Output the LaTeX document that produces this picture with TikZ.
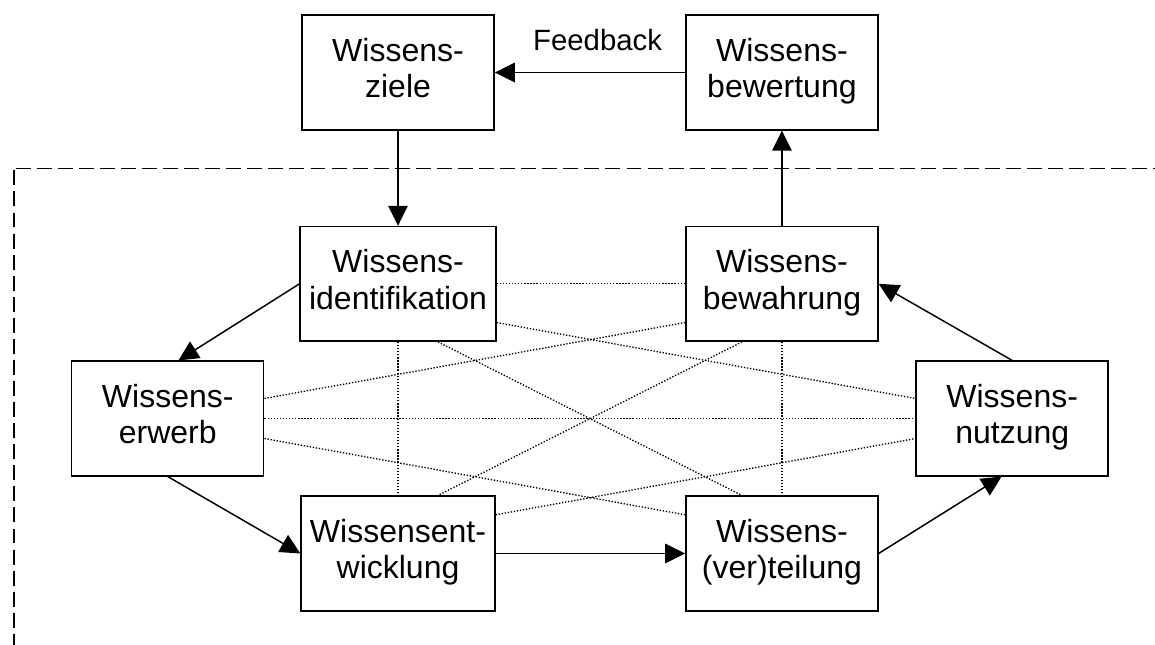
\documentclass[tikz,border=0pt]{standalone}
\usepackage{fontspec}
\setmainfont{Liberation Sans}
\usetikzlibrary{arrows.meta}

\begin{document}
\begin{tikzpicture}[
    process/.style={draw, rectangle, line width=0.55pt, minimum width=72pt, minimum height=43pt, align=center, font=\fontsize{12}{13.8}\selectfont, text depth=3.5pt},
    flow/.style={-{Triangle[length=7.5pt, width=7.3pt]}, line width=0.55pt},
    link/.style={line width=0.5pt, dash pattern=on 0.5pt off 0.65pt},
    frame/.style={line width=0.7pt, dash pattern=on 5.6pt off 2.3pt}
]
    \useasboundingbox (-7.776,-2.985) rectangle (7.447,5.516);

    % Goals and assessment
    \node[process] (ziele) at (-2.53,4.56) {Wissens-\\ziele};
    \node[process] (bewertung) at (2.53,4.56) {Wissens-\\bewertung};

    % Core building blocks
    \node[process] (ident) at (-2.53,1.775) {Wissens-\\identifikation};
    \node[process] (bewahrung) at (2.53,1.775) {Wissens-\\bewahrung};
    \node[process] (erwerb) at (-5.565,0) {Wissens-\\erwerb};
    \node[process] (nutzung) at (5.565,0) {Wissens-\\nutzung};
    \node[process] (entw) at (-2.53,-1.779) {Wissensent-\\wicklung};
    \node[process] (verteilung) at (2.53,-1.779) {Wissens-\\(ver)teilung};

    % Dashed frame round the core
    \draw[frame] (-7.592,3.27) -- (-7.592,-2.985);
    \draw[frame] (-7.57,3.295) -- (7.447,3.295);

    % Outer loop
    \draw[flow] (bewertung) -- node[above=4.5pt, pos=0.46, font=\fontsize{11}{13}\selectfont] {Feedback} (ziele);
    \draw[flow] (ziele) -- (ident);
    \draw[flow] (bewahrung) -- (bewertung);

    % Core cycle
    \draw[flow] (ident.west) -- ([xshift=4pt]erwerb.north);
    \draw[flow] (erwerb.south) -- (entw.west);
    \draw[flow] (entw) -- (verteilung);
    \draw[flow] (verteilung.east) -- ([xshift=-4pt]nutzung.south);
    \draw[flow] (nutzung.north) -- (bewahrung.east);

    % Links between all blocks
    \draw[link] (ident) -- (bewahrung);
    \draw[link] (erwerb) -- (nutzung);
    \draw[link] (ident) -- (entw);
    \draw[link] (bewahrung) -- (verteilung);
    \draw[link] ([yshift=7.5pt]erwerb.east) -- ([yshift=-14.5pt]bewahrung.west);
    \draw[link] ([yshift=-7.5pt]erwerb.east) -- ([yshift=14.5pt]verteilung.west);
    \draw[link] ([yshift=-14.5pt]ident.east) -- ([yshift=7.5pt]nutzung.west);
    \draw[link] ([yshift=14.5pt]entw.east) -- ([yshift=-7.5pt]nutzung.west);
    \draw[link] ([xshift=15pt]ident.south) -- ([xshift=-15pt]verteilung.north);
    \draw[link] ([xshift=-15pt]bewahrung.south) -- ([xshift=15pt]entw.north);

\end{tikzpicture}
\end{document}
